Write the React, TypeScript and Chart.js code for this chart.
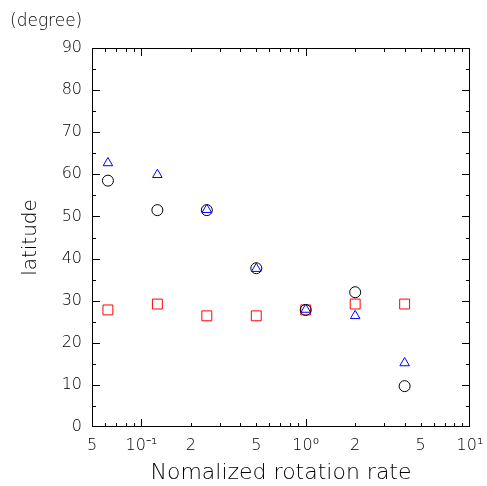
import { useEffect, useRef } from "react";
import { Chart, registerables } from "chart.js";

Chart.register(...registerables);

// ---- data ----
const RATES = [0.0625, 0.125, 0.25, 0.5, 1, 2, 4];
const TRIANGLE_LAT = [62.7, 59.9, 51.6, 37.6, 27.9, 26.4, 15.2];
const CIRCLE_LAT = [58.5, 51.5, 51.5, 37.7, 27.8, 32.0, 9.7];
const SQUARE_LAT = [27.8, 29.2, 26.4, 26.4, 27.8, 29.2, 29.2];

const X_TICKS = [0.05, 0.1, 0.2, 0.5, 1, 2, 5, 10];
const X_TICK_LABELS = ["5", "10\u207B\u00B9", "2", "5", "10\u2070", "2", "5", "10\u00B9"];
const X_MAJOR = [0.1, 1];
const X_MINOR = [0.06, 0.07, 0.08, 0.09, 0.2, 0.3, 0.4, 0.5, 0.6, 0.7, 0.8, 0.9, 2, 3, 4, 5, 6, 7, 8, 9];
const Y_MIN = 0;
const Y_MAX = 90;
const Y_STEP = 10;
const Y_MINOR_STEP = 5;

const X_TITLE = "Nomalized rotation rate";
const Y_TITLE = "latitude";
const UNIT_LABEL = "(degree)";

const FAMILY = "'DejaVu Sans', sans-serif";
const WEIGHT = 200;

const framePlugin = {
  id: "frame",
  beforeDatasetsDraw(chart: any) {
    const { ctx, chartArea, scales } = chart;
    const { left, right, top, bottom } = chartArea;
    const x = scales.x;
    const y = scales.y;
    ctx.save();
    ctx.strokeStyle = "#000";
    ctx.lineWidth = 1;
    ctx.beginPath();
    const seg = (x1: number, y1: number, x2: number, y2: number) => {
      ctx.moveTo(x1, y1);
      ctx.lineTo(x2, y2);
    };
    const xTicks = [...X_MAJOR.map((v) => [v, 8]), ...X_MINOR.map((v) => [v, 4])];
    xTicks.forEach(([v, len]) => {
      const px = Math.round(x.getPixelForValue(v)) + 0.5;
      seg(px, bottom, px, bottom - len);
      seg(px, top, px, top + len);
    });
    for (let v = Y_MIN + Y_MINOR_STEP; v < Y_MAX; v += Y_MINOR_STEP) {
      const len = v % Y_STEP === 0 ? 8 : 4;
      const py = Math.round(y.getPixelForValue(v)) + 0.5;
      seg(left, py, left + len, py);
      seg(right, py, right - len, py);
    }
    ctx.stroke();
    ctx.strokeRect(Math.round(left) + 0.5, Math.round(top) + 0.5, Math.round(right - left) - 1, Math.round(bottom - top) - 1);
    ctx.restore();
  },
  afterDraw(chart: any) {
    const { ctx } = chart;
    ctx.save();
    ctx.fillStyle = "#000";
    ctx.font = `${WEIGHT} 17px ${FAMILY}`;
    ctx.textAlign = "left";
    ctx.textBaseline = "middle";
    ctx.fillText(UNIT_LABEL, 10, 22);
    ctx.restore();
  },
};

export default function App() {
  const ref = useRef<HTMLCanvasElement | null>(null);

  useEffect(() => {
    if (!ref.current) return;
    const mk = (label: string, data: number[], style: string, color: string, radius: number) => ({
      label,
      data: RATES.map((r, i) => ({ x: r, y: data[i] })),
      showLine: false,
      pointStyle: style,
      pointRadius: radius,
      pointBorderWidth: 1,
      pointBorderColor: color,
      pointBackgroundColor: "rgba(0,0,0,0)",
      borderColor: color,
      backgroundColor: "rgba(0,0,0,0)",
    });
    const chart = new Chart(ref.current, {
      type: "scatter",
      data: {
        datasets: [
          mk("triangle", TRIANGLE_LAT, "triangle", "#0000ff", 5.5),
          mk("circle", CIRCLE_LAT, "circle", "#000000", 5.5),
          mk("square", SQUARE_LAT, "rect", "#ff0000", 7),
        ],
      },
      options: {
        responsive: false,
        animation: false,
        events: [],
        layout: { padding: { top: 48, right: 17, bottom: 0, left: 0 } },
        plugins: { legend: { display: false }, tooltip: { enabled: false } },
        scales: {
          x: {
            type: "logarithmic",
            min: X_TICKS[0],
            max: X_TICKS[X_TICKS.length - 1],
            grid: { display: false, drawTicks: false },
            border: { display: false },
            afterBuildTicks: (s: any) => {
              s.ticks = X_TICKS.map((v) => ({ value: v }));
            },
            afterFit: (s: any) => {
              s.height = 59;
              s.paddingLeft = 0;
              s.paddingRight = 0;
            },
            ticks: {
              autoSkip: false,
              maxRotation: 0,
              padding: 9,
              color: "#000",
              font: { family: FAMILY, size: 16, weight: WEIGHT as any },
              callback: (_v: any, i: number) => X_TICK_LABELS[i],
            },
            title: {
              display: true,
              text: X_TITLE,
              color: "#000",
              font: { family: FAMILY, size: 22, weight: WEIGHT as any },
              padding: { top: 0, bottom: 0 },
            },
          },
          y: {
            type: "linear",
            min: Y_MIN,
            max: Y_MAX,
            grid: { display: false, drawTicks: false },
            border: { display: false },
            afterFit: (s: any) => {
              s.width = 92;
              s.paddingTop = 0;
              s.paddingBottom = 0;
            },
            ticks: {
              stepSize: Y_STEP,
              padding: 10,
              color: "#000",
              font: { family: FAMILY, size: 16, weight: WEIGHT as any },
            },
            title: {
              display: true,
              text: Y_TITLE,
              color: "#000",
              font: { family: FAMILY, size: 20, weight: WEIGHT as any },
              padding: { top: 19, bottom: 0 },
            },
          },
        },
      },
      plugins: [framePlugin],
    });
    return () => chart.destroy();
  }, []);

  return (
    <div style={{ position: "fixed", left: 0, top: 0, width: 487, height: 486, background: "#fff" }}>
      <canvas ref={ref} width={487} height={486} style={{ display: "block" }} />
    </div>
  );
}
